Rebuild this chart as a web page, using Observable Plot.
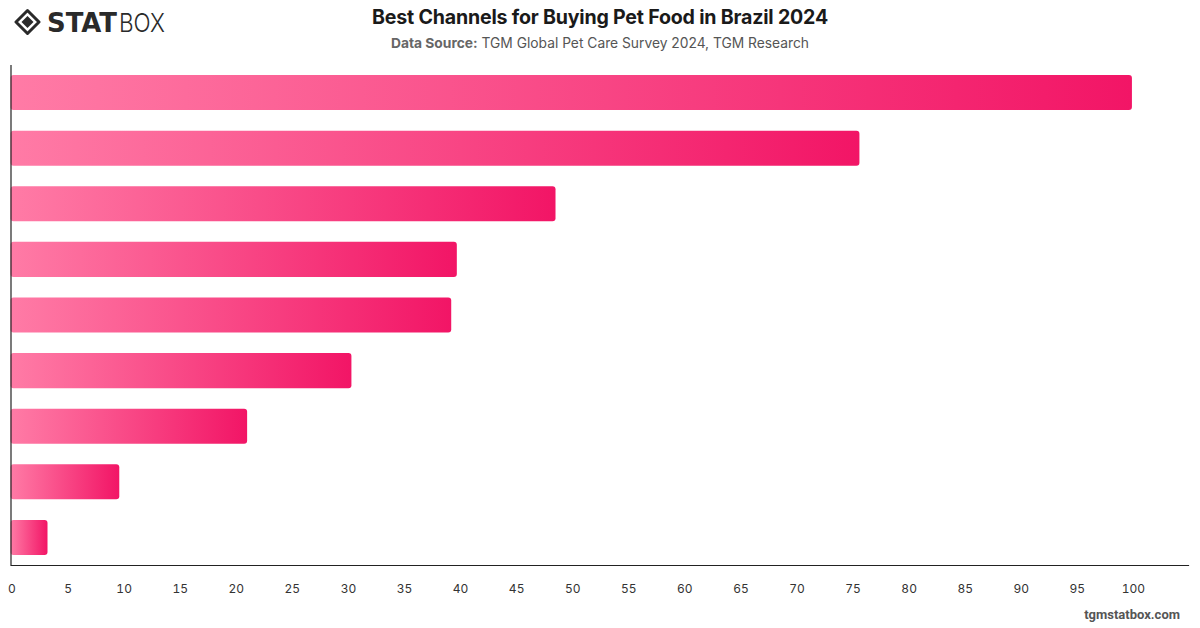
<!DOCTYPE html>
<html>
<head>
<meta charset="utf-8">
<script src="https://cdn.jsdelivr.net/npm/d3@7"></script>
<script src="https://cdn.jsdelivr.net/npm/@observablehq/plot@0.6"></script>
<style>
  html, body { margin: 0; padding: 0; background: #fff; }
  body { width: 1200px; height: 628px; position: relative; overflow: hidden; font-family: Inter, "Noto Sans", sans-serif; }
  #logo { position: absolute; left: 14px; top: 6px; }
  #title { position: absolute; left: 0; width: 1200px; top: 5px; text-align: center; font-size: 19.6px; font-weight: 700; color: #1a1a1a; letter-spacing: -0.2px; }
  #subtitle { position: absolute; left: 0; width: 1200px; top: 35px; text-align: center; font-size: 13.8px; color: #555; }
  #subtitle b { color: #666; }
  #chart { position: absolute; left: 0; top: 55px; }
  #footer { position: absolute; right: 20px; top: 607px; font-size: 13px; font-weight: 700; color: #555; font-family: Roboto, Inter, sans-serif; }
</style>
</head>
<body>
<svg id="logo" width="160" height="32" viewBox="0 0 160 32">
  <g transform="translate(13.5,16)">
    <path d="M0,-11.5 L11.5,0 L0,11.5 L-11.5,0 Z" fill="none" stroke="#2a2a2a" stroke-width="3" stroke-linejoin="round"/>
    <path d="M0,-6 L6,0 L0,6 L-6,0 Z" fill="#2a2a2a"/>
  </g>
  <text x="33" y="26" font-family="'DejaVu Sans', Inter, sans-serif" font-weight="900" font-size="26" fill="#2a2a2a" textLength="70" lengthAdjust="spacingAndGlyphs">STAT</text>
  <text x="105" y="26" font-family="Inter, 'Noto Sans', sans-serif" font-weight="300" font-size="26" fill="#2a2a2a" textLength="46" lengthAdjust="spacingAndGlyphs">BOX</text>
</svg>
<div id="title">Best Channels for Buying Pet Food in Brazil 2024</div>
<div id="subtitle"><b>Data Source:</b> TGM Global Pet Care Survey 2024, TGM Research</div>
<div id="chart"></div>
<div id="footer">tgmstatbox.com</div>
<script>
const channels = [
  "Pet shops",
  "Supermarkets",
  "Online marketplaces",
  "Veterinary clinics",
  "Pet store websites",
  "Hypermarkets",
  "Wholesale stores",
  "Convenience stores",
  "Other"
];
const shares = [100, 75.7, 48.6, 39.8, 39.3, 30.4, 21.1, 9.7, 3.3];
const xTicks = d3.range(0, 101, 5);

const data = channels.map((c, i) => ({channel: c, value: shares[i]}));

const chart = Plot.plot({
  width: 1200,
  height: 560,
  marginTop: 10,
  marginBottom: 50,
  marginLeft: 10.5,
  marginRight: 12,
  style: {fontFamily: "Inter, 'Noto Sans', sans-serif", fontSize: "12px", color: "#333"},
  x: {domain: [0, 105], ticks: xTicks, tickSize: 0, tickPadding: 19, label: null},
  y: {domain: channels, axis: null, paddingInner: 0.37, paddingOuter: 0.18, round: false},
  marks: [
    () => {
      const svg = d3.create("svg:defs");
      const g = svg.append("linearGradient").attr("id", "barGrad").attr("x1", "0").attr("x2", "1").attr("y1", "0").attr("y2", "0");
      g.append("stop").attr("offset", "0%").attr("stop-color", "#ff7ba6");
      g.append("stop").attr("offset", "100%").attr("stop-color", "#f21566");
      return svg.node();
    },
    Plot.barX(data, {x: "value", y: "channel", fill: "url(#barGrad)", rx: 3}),
    Plot.ruleX([0], {stroke: "#222", strokeWidth: 1.2}),
    Plot.axisX({ticks: xTicks, tickSize: 0, tickPadding: 19, fill: "#333", dx: 1}),
    Plot.frame({anchor: "bottom", stroke: "#222", strokeWidth: 1.2})
  ]
});
document.getElementById("chart").appendChild(chart);
</script>
</body>
</html>
